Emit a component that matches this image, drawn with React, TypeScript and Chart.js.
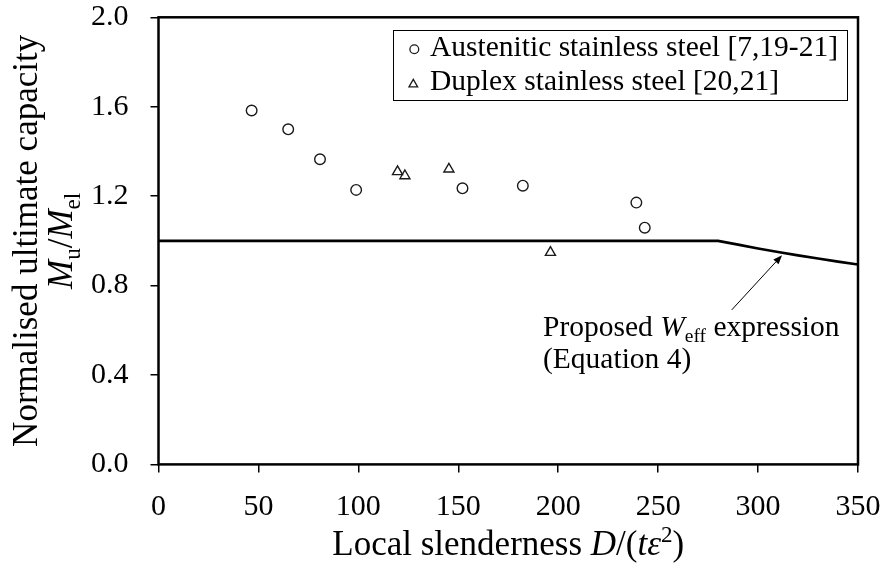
import React, { useEffect, useRef } from "react";
import { Chart, registerables } from "chart.js";

Chart.register(...registerables);

// Test results: local slenderness D/(t·ε²) vs normalised capacity Mu/Mel
const austeniticSlenderness = [46.6, 64.9, 80.8, 98.9, 152.1, 182.3, 239.1, 243.3];
const austeniticCapacity = [1.583, 1.499, 1.365, 1.228, 1.235, 1.247, 1.171, 1.059];
const duplexSlenderness = [119.6, 123.3, 145.3, 196.1];
const duplexCapacity = [1.309, 1.291, 1.321, 0.948];

// Proposed effective section modulus design curve
const weffSlenderness = [0, 280, 290, 300, 310, 320, 330, 340, 350];
const weffCapacity = [1.0, 1.0, 0.983, 0.966, 0.95, 0.935, 0.921, 0.907, 0.894];

const xTickValues = [0, 50, 100, 150, 200, 250, 300, 350];
const yTickValues = [0, 0.4, 0.8, 1.2, 1.6, 2.0];

const legendLabels = ["Austenitic stainless steel [7,19-21]", "Duplex stainless steel [20,21]"];

// Arrow from annotation text to the curve, and the text anchor (data units)
const arrowTail = { x: 286.8, y: 0.691 };
const arrowHead = { x: 312.0, y: 0.936 };
const noteAnchor = { x: 192.4, y: 0.575 };

const FAMILY = '"Liberation Serif", "Times New Roman", serif';
const MARK = "#1a1a1a";

type Seg = { t: string; i?: boolean; sub?: boolean; sup?: boolean };

function segFont(s: Seg, size: number) {
  const sz = s.sub || s.sup ? size * 0.66 : size;
  return `${s.i ? "italic " : ""}${sz}px ${FAMILY}`;
}

function richWidth(ctx: CanvasRenderingContext2D, segs: Seg[], size: number) {
  let w = 0;
  for (const s of segs) {
    ctx.font = segFont(s, size);
    w += ctx.measureText(s.t).width;
  }
  return w;
}

function drawRich(ctx: CanvasRenderingContext2D, segs: Seg[], x: number, y: number, size: number) {
  let cx = x;
  ctx.textAlign = "left";
  ctx.textBaseline = "alphabetic";
  for (const s of segs) {
    ctx.font = segFont(s, size);
    const dy = s.sub ? size * 0.22 : s.sup ? -size * 0.36 : 0;
    ctx.fillText(s.t, cx, y + dy);
    cx += ctx.measureText(s.t).width;
  }
}

const yTitle1: Seg[] = [{ t: "Normalised ultimate capacity" }];
const yTitle2: Seg[] = [
  { t: "M", i: true },
  { t: "u", sub: true },
  { t: "/" },
  { t: "M", i: true },
  { t: "el", sub: true },
];
const xTitle: Seg[] = [
  { t: "Local slenderness " },
  { t: "D", i: true },
  { t: "/(" },
  { t: "t", i: true },
  { t: "ε", i: true },
  { t: "2", sup: true },
  { t: ")" },
];
const note1: Seg[] = [
  { t: "Proposed " },
  { t: "W", i: true },
  { t: "eff", sub: true },
  { t: " expression" },
];
const note2: Seg[] = [{ t: "(Equation 4)" }];

const decorations = {
  id: "decorations",
  afterDraw(chart: any) {
    const ctx: CanvasRenderingContext2D = chart.ctx;
    const area = chart.chartArea;
    const xs = chart.scales.x;
    const ys = chart.scales.y;
    ctx.save();
    ctx.fillStyle = "#000";
    ctx.strokeStyle = "#000";

    // frame
    ctx.lineWidth = 2.5;
    ctx.strokeRect(area.left, area.top, area.right - area.left, area.bottom - area.top);

    // axis titles
    const midY = (area.top + area.bottom) / 2;
    const midX = (area.left + area.right) / 2;
    const titleSize = 35;
    ctx.save();
    ctx.translate(37, midY);
    ctx.rotate(-Math.PI / 2);
    drawRich(ctx, yTitle1, -richWidth(ctx, yTitle1, titleSize) / 2, 0, titleSize);
    ctx.restore();
    ctx.save();
    ctx.translate(72, midY);
    ctx.rotate(-Math.PI / 2);
    drawRich(ctx, yTitle2, -richWidth(ctx, yTitle2, titleSize) / 2, 0, titleSize);
    ctx.restore();
    drawRich(ctx, xTitle, midX - richWidth(ctx, xTitle, titleSize) / 2, 555, titleSize);

    // legend
    const lx = 393, ly = 30, lw = 454, lh = 70;
    ctx.fillStyle = "#fff";
    ctx.fillRect(lx, ly, lw, lh);
    ctx.fillStyle = "#000";
    ctx.lineWidth = 1;
    ctx.strokeRect(lx + 0.5, ly + 0.5, lw, lh);
    const legendSize = 29.5;
    ctx.font = `${legendSize}px ${FAMILY}`;
    ctx.textBaseline = "alphabetic";
    ctx.textAlign = "left";
    ctx.fillText(legendLabels[0], lx + 37, ly + 26);
    ctx.fillText(legendLabels[1], lx + 37, ly + 60);
    ctx.strokeStyle = MARK;
    ctx.lineWidth = 1.3;
    ctx.beginPath();
    ctx.arc(lx + 21.3, ly + 19.3, 4.4, 0, Math.PI * 2);
    ctx.stroke();
    const tr = 5;
    const tx = lx + 20.3, ty = ly + 54.3;
    ctx.beginPath();
    ctx.moveTo(tx, ty - tr);
    ctx.lineTo(tx + tr * Math.sin((2 * Math.PI) / 3), ty - tr * Math.cos((2 * Math.PI) / 3));
    ctx.lineTo(tx + tr * Math.sin((4 * Math.PI) / 3), ty - tr * Math.cos((4 * Math.PI) / 3));
    ctx.closePath();
    ctx.stroke();

    // annotation and arrow
    ctx.fillStyle = "#000";
    const noteSize = 29.5;
    const nx = xs.getPixelForValue(noteAnchor.x);
    const ny = ys.getPixelForValue(noteAnchor.y);
    drawRich(ctx, note1, nx, ny, noteSize);
    drawRich(ctx, note2, nx, ny + 32, noteSize);

    const ax0 = xs.getPixelForValue(arrowTail.x);
    const ay0 = ys.getPixelForValue(arrowTail.y);
    const ax1 = xs.getPixelForValue(arrowHead.x);
    const ay1 = ys.getPixelForValue(arrowHead.y);
    const ang = Math.atan2(ay1 - ay0, ax1 - ax0);
    const headLen = 9, headW = 3.5;
    const bx = ax1 - headLen * Math.cos(ang);
    const by = ay1 - headLen * Math.sin(ang);
    ctx.strokeStyle = "#000";
    ctx.lineWidth = 1;
    ctx.beginPath();
    ctx.moveTo(ax0, ay0);
    ctx.lineTo(bx, by);
    ctx.stroke();
    ctx.beginPath();
    ctx.moveTo(ax1, ay1);
    ctx.lineTo(bx + headW * Math.sin(ang), by - headW * Math.cos(ang));
    ctx.lineTo(bx - headW * Math.sin(ang), by + headW * Math.cos(ang));
    ctx.closePath();
    ctx.fill();

    ctx.restore();
  },
};

function clearScalePadding(scale: any) {
  scale.paddingTop = 0;
  scale.paddingBottom = 0;
  scale.paddingLeft = 0;
  scale.paddingRight = 0;
}

export default function App() {
  const canvasRef = useRef<HTMLCanvasElement | null>(null);

  useEffect(() => {
    const canvas = canvasRef.current;
    if (!canvas) return;
    const toPoints = (xs: number[], ys: number[]) => xs.map((x, i) => ({ x, y: ys[i] }));

    const chart = new Chart(canvas, {
      type: "scatter",
      data: {
        datasets: [
          {
            label: "Proposed Weff expression",
            data: toPoints(weffSlenderness, weffCapacity),
            showLine: true,
            borderColor: "#000",
            borderWidth: 2.6,
            pointRadius: 0,
            tension: 0,
            order: 2,
          },
          {
            label: legendLabels[0],
            data: toPoints(austeniticSlenderness, austeniticCapacity),
            pointStyle: "circle",
            pointRadius: 5.3,
            pointBorderWidth: 1.4,
            borderColor: MARK,
            backgroundColor: "rgba(255,255,255,0)",
            order: 1,
          },
          {
            label: legendLabels[1],
            data: toPoints(duplexSlenderness, duplexCapacity),
            pointStyle: "triangle",
            pointRadius: 5.8,
            pointBorderWidth: 1.4,
            borderColor: MARK,
            backgroundColor: "rgba(255,255,255,0)",
            order: 1,
          },
        ],
      },
      options: {
        responsive: false,
        animation: false,
        events: [],
        layout: { padding: { top: 17.3, right: 29, left: 0, bottom: 0 } },
        plugins: {
          legend: { display: false },
          tooltip: { enabled: false },
          title: { display: false },
        },
        scales: {
          x: {
            type: "linear",
            min: 0,
            max: 350,
            afterBuildTicks: (scale: any) => {
              scale.ticks = xTickValues.map((v) => ({ value: v }));
            },
            afterFit: (scale: any) => {
              scale.height = 574 - 464.4;
              clearScalePadding(scale);
            },
            border: { display: false },
            grid: {
              drawOnChartArea: false,
              drawTicks: true,
              tickLength: 8,
              color: "#000",
              lineWidth: 1.5,
            },
            ticks: {
              color: "#000",
              padding: 17,
              maxRotation: 0,
              font: { family: FAMILY, size: 30 },
              callback: (v: any) => String(v),
            },
          },
          y: {
            type: "linear",
            min: 0,
            max: 2,
            afterBuildTicks: (scale: any) => {
              scale.ticks = yTickValues.map((v) => ({ value: v }));
            },
            afterFit: (scale: any) => {
              scale.width = 158.5;
              clearScalePadding(scale);
            },
            border: { display: false },
            grid: {
              drawOnChartArea: false,
              drawTicks: true,
              tickLength: 8,
              color: "#000",
              lineWidth: 1.5,
            },
            ticks: {
              color: "#000",
              padding: 22,
              font: { family: FAMILY, size: 30 },
              callback: (v: any) => Number(v).toFixed(1),
            },
          },
        },
      },
      plugins: [decorations],
    } as any);

    return () => chart.destroy();
  }, []);

  return (
    <div style={{ position: "fixed", left: 0, top: 0, width: 887, height: 574, background: "#fff" }}>
      <canvas ref={canvasRef} width={887} height={574} style={{ display: "block" }} />
    </div>
  );
}
